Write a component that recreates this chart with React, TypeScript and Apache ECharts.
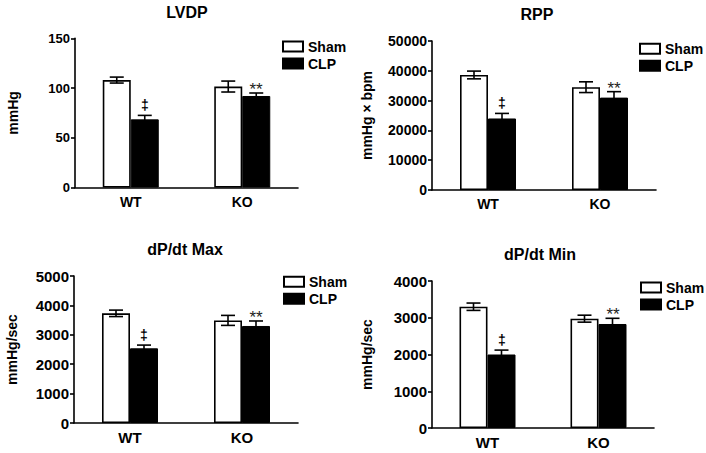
import { useEffect, useRef } from 'react';
import * as echarts from 'echarts';

// ---- data ----
const groups = ['WT', 'KO'];
const seriesNames = ['Sham', 'CLP'];
const panelTitles = ['LVDP', 'RPP', 'dP/dt Max', 'dP/dt Min'];
const yAxisNames = ['mmHg', 'mmHg × bpm', 'mmHg/sec', 'mmHg/sec'];
const yMax = [150, 50000, 5000, 4000];
const yInterval = [50, 10000, 1000, 1000];

const lvdpSham = [108, 101.5];
const lvdpShamErr = [3, 5.5];
const lvdpClp = [68.5, 92];
const lvdpClpErr = [4, 3];

const rppSham = [38600, 34500];
const rppShamErr = [1300, 1800];
const rppClp = [24000, 31000];
const rppClpErr = [1700, 2000];

const maxSham = [3730, 3490];
const maxShamErr = [110, 170];
const maxClp = [2540, 3300];
const maxClpErr = [110, 170];

const minSham = [3300, 2975];
const minShamErr = [100, 95];
const minClp = [2000, 2830];
const minClpErr = [120, 155];

const clpMarks = ['‡', '**'];

const shamValues = [lvdpSham, rppSham, maxSham, minSham];
const shamErrors = [lvdpShamErr, rppShamErr, maxShamErr, minShamErr];
const clpValues = [lvdpClp, rppClp, maxClp, minClp];
const clpErrors = [lvdpClpErr, rppClpErr, maxClpErr, minClpErr];

// ---- layout ----
const FONT = "'Liberation Sans', Arial, Helvetica, sans-serif";
const layout = [
  { left: 75, top: 38.3, width: 223, height: 149.2, titleX: 187, titleY: 4, legX: 282, legY: 39.5, nameGap: 55, tickFont: 13 },
  { left: 432, top: 41, width: 224, height: 149, titleX: 537, titleY: 6, legX: 639, legY: 41.8, nameGap: 58, tickFont: 14 },
  { left: 74, top: 276, width: 224, height: 147, titleX: 185, titleY: 241, legX: 283, legY: 274.7, nameGap: 55, tickFont: 15 },
  { left: 432, top: 281, width: 222, height: 147, titleX: 540, titleY: 246, legX: 640, legY: 280.5, nameGap: 58, tickFont: 15 },
];

const BAR_W = 28;

function errorSeries(panel: number, values: number[], errors: number[], side: number, marks: string[] | null) {
  return {
    type: 'custom',
    name: 'err' + panel + '_' + side,
    xAxisIndex: panel,
    yAxisIndex: panel,
    z: 5,
    silent: true,
    itemStyle: { color: '#000000' },
    encode: { x: 0, y: 1 },
    data: values.map((v, i) => [i, v, errors[i]]),
    renderItem: (params: any, api: any) => {
      const cat = api.value(0);
      const v = api.value(1);
      const e = api.value(2);
      const off = side === 0 ? -BAR_W / 2 : BAR_W / 2;
      const pTop = api.coord([cat, v + e]);
      const pBot = api.coord([cat, v - e]);
      const x = pTop[0] + off;
      const cap = 7;
      const stroke = { stroke: '#000', lineWidth: 1.6 };
      const children: any[] = [
        { type: 'line', shape: { x1: x, y1: pTop[1], x2: x, y2: pBot[1] }, style: stroke },
        { type: 'line', shape: { x1: x - cap, y1: pTop[1], x2: x + cap, y2: pTop[1] }, style: stroke },
        { type: 'line', shape: { x1: x - cap, y1: pBot[1], x2: x + cap, y2: pBot[1] }, style: stroke },
      ];
      if (marks) {
        const m = marks[params.dataIndex];
        const isStar = m === '**';
        children.push({
          type: 'text',
          x: Math.round(x),
          y: Math.round(pTop[1] - (isStar ? 4 : 10)),
          style: {
            text: m,
            align: 'center',
            verticalAlign: 'middle',
            fill: isStar ? '#222222' : '#000000',
            fontFamily: FONT,
            fontSize: isStar ? 17 : 14,
            fontWeight: isStar ? 'normal' : 'bold',
          },
        });
      }
      return { type: 'group', children };
    },
  };
}

export default function App() {
  const ref = useRef<HTMLDivElement>(null);

  useEffect(() => {
    if (!ref.current) return;
    const chart = echarts.init(ref.current, null, { renderer: 'svg' });
    const series: any[] = [];
    for (let p = 0; p < 4; p++) {
      series.push({
        type: 'bar',
        name: seriesNames[0],
        xAxisIndex: p,
        yAxisIndex: p,
        data: shamValues[p],
        barWidth: BAR_W,
        barGap: '0%',
        itemStyle: { color: '#ffffff', borderColor: '#000', borderWidth: 1.6 },
      });
      series.push({
        type: 'bar',
        name: seriesNames[1],
        xAxisIndex: p,
        yAxisIndex: p,
        data: clpValues[p],
        barWidth: BAR_W,
        barGap: '0%',
        itemStyle: { color: '#000000', borderColor: '#000', borderWidth: 1 },
      });
      series.push(errorSeries(p, shamValues[p], shamErrors[p], 0, null));
      series.push(errorSeries(p, clpValues[p], clpErrors[p], 1, clpMarks));
    }

    chart.setOption({
      animation: false,
      backgroundColor: '#ffffff',
      title: layout.map((L, i) => ({
        text: panelTitles[i],
        left: L.titleX,
        top: L.titleY,
        textAlign: 'center',
        padding: 0,
        textStyle: { fontFamily: FONT, fontWeight: 'bold', fontSize: 16, color: '#000' },
      })),
      legend: layout.map((L) => ({
        data: seriesNames,
        orient: 'vertical',
        left: L.legX,
        top: L.legY,
        padding: 0,
        itemWidth: 20,
        itemHeight: 10,
        itemGap: 3,
        icon: 'rect',
        selectedMode: false,
        textStyle: { fontFamily: FONT, fontWeight: 'bold', fontSize: 14, color: '#000' },
      })),
      grid: layout.map((L) => ({ left: L.left, top: L.top, width: L.width, height: L.height })),
      xAxis: layout.map((L, i) => ({
        type: 'category',
        gridIndex: i,
        data: groups,
        axisLine: { lineStyle: { color: '#000', width: 1.6 } },
        axisTick: { show: false },
        axisLabel: {
          margin: 7,
          color: '#000',
          fontFamily: FONT,
          fontWeight: 'bold',
          fontSize: i >= 2 ? 15 : 14,
        },
      })),
      yAxis: layout.map((L, i) => ({
        type: 'value',
        gridIndex: i,
        min: 0,
        max: yMax[i],
        interval: yInterval[i],
        name: yAxisNames[i],
        nameLocation: 'middle',
        nameRotate: 90,
        nameGap: L.nameGap,
        nameTextStyle: { fontFamily: FONT, fontWeight: 'bold', fontSize: 14, color: '#000' },
        splitLine: { show: false },
        axisLine: { show: true, lineStyle: { color: '#000', width: 1.6 } },
        axisTick: { show: true, length: 4, lineStyle: { color: '#000', width: 1.6 } },
        axisLabel: {
          margin: 5,
          color: '#000',
          fontFamily: FONT,
          fontWeight: 'bold',
          fontSize: L.tickFont,
          formatter: (v: number) => String(v),
        },
      })),
      series,
    });
    return () => chart.dispose();
  }, []);

  return (
    <div
      ref={ref}
      style={{ position: 'fixed', left: 0, top: 0, width: 706, height: 453, background: '#fff' }}
    />
  );
}
